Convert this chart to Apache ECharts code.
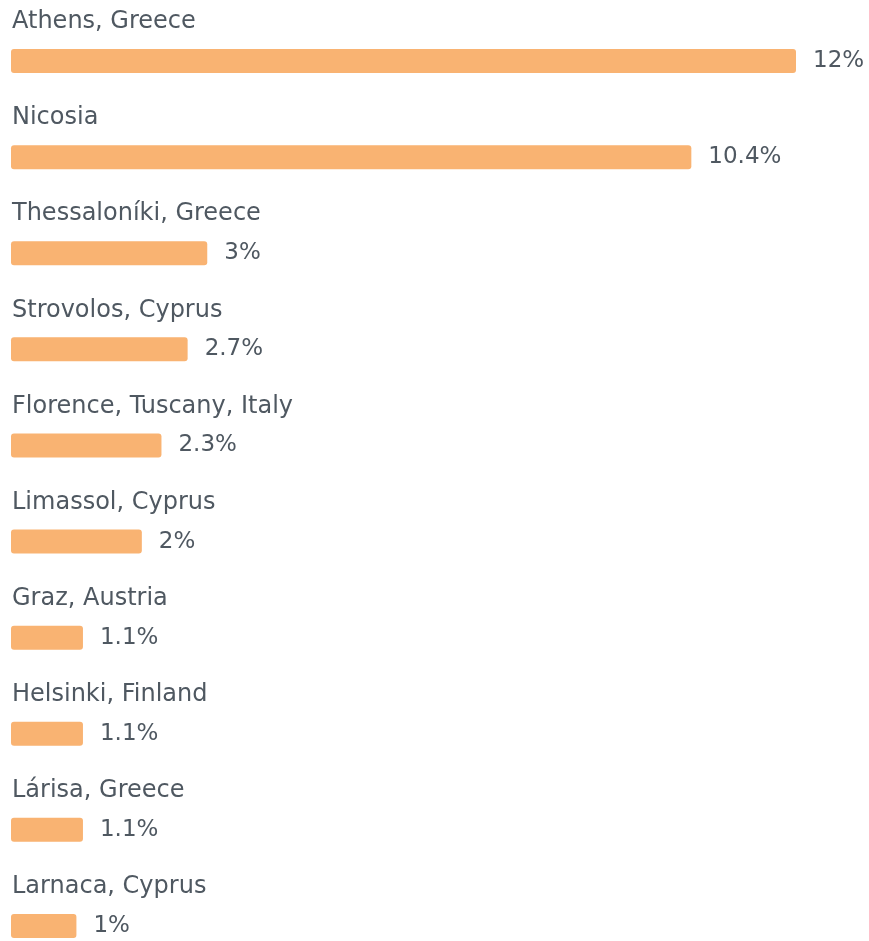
<!DOCTYPE html>
<html>
<head>
<meta charset="utf-8">
<script src="https://cdn.jsdelivr.net/npm/echarts@6/dist/echarts.min.js"></script>
<style>
  html, body { margin: 0; padding: 0; background: #fff; }
  #chart { width: 869px; height: 941px; }
</style>
</head>
<body>
<div id="chart"></div>
<script>
// Share of audience by city (%)
const cities = [
  'Athens, Greece',
  'Nicosia',
  'Thessaloníki, Greece',
  'Strovolos, Cyprus',
  'Florence, Tuscany, Italy',
  'Limassol, Cyprus',
  'Graz, Austria',
  'Helsinki, Finland',
  'Lárisa, Greece',
  'Larnaca, Cyprus'
];
const shares = [12, 10.4, 3, 2.7, 2.3, 2, 1.1, 1.1, 1.1, 1];

const textColor = '#4f5861';
const fontFamily = '"DejaVu Sans", "Open Sans", sans-serif';

const chart = echarts.init(document.getElementById('chart'), null, { renderer: 'canvas' });
chart.setOption({
  animation: false,
  backgroundColor: '#ffffff',
  grid: {
    left: 11, top: 13, width: 785, height: 961,
    containLabel: false,
    outerBoundsMode: 'none'
  },
  xAxis: {
    type: 'value',
    min: 0,
    max: 12,
    show: false
  },
  yAxis: {
    type: 'category',
    data: cities,
    inverse: true,
    show: false
  },
  series: [
    {
      // visible bars with the value at the end
      type: 'bar',
      data: shares,
      barWidth: 24,
      itemStyle: { color: '#f9b372', borderRadius: 3 },
      label: {
        show: true,
        position: 'right',
        distance: 17,
        formatter: '{c}%',
        color: textColor,
        fontFamily: fontFamily,
        fontSize: 23
      }
    },
    {
      // transparent twin carrying the city name above each bar
      type: 'bar',
      data: shares,
      barWidth: 24,
      barGap: '-100%',
      silent: true,
      itemStyle: { color: 'rgba(0,0,0,0)' },
      label: {
        show: true,
        position: 'insideLeft',
        distance: 0,
        offset: [1, -39],
        formatter: '{b}',
        color: textColor,
        fontFamily: fontFamily,
        fontSize: 24
      }
    }
  ]
});
</script>
</body>
</html>
